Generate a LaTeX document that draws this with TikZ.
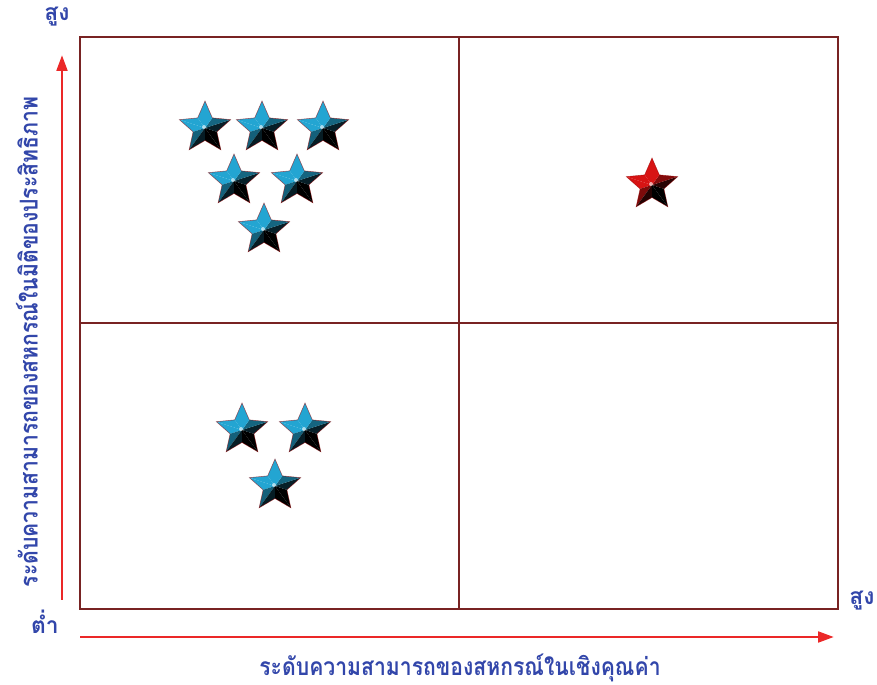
\documentclass[tikz,border=0pt]{standalone}
\usepackage{graphicx}
\usepackage{fontspec}
\newfontfamily\thaifont[Script=Thai]{Loma}
\usetikzlibrary{arrows.meta}

\definecolor{boxred}{RGB}{120,35,35}
\definecolor{axisred}{RGB}{235,40,40}
\definecolor{labelblue}{RGB}{50,70,170}
\definecolor{starblue}{RGB}{35,165,210}
\definecolor{starred}{RGB}{215,20,20}

\newcommand{\narrow}[1]{\scalebox{0.86}[1]{#1}}

\tikzset{
  pics/gem star/.style={code={
    \foreach \k [evaluate=\k as \p using {int(max(0,min(100,60+70*cos(36*\k+108-125))))},
                 evaluate=\k as \ra using {mod(\k,2)==0 ? 27 : 12.5},
                 evaluate=\k as \rb using {mod(\k,2)==0 ? 12.5 : 27}] in {0,...,9} {
      \fill[#1!\p!black] (0,0) -- ({90+36*\k}:\ra) -- ({126+36*\k}:\rb) -- cycle;
    }
    \draw[red!60!black, line width=0.3pt, opacity=0.6] (90:27)
      \foreach \j [evaluate=\j as \rr using {mod(\j,2)==0 ? 27 : 12.5}] in {1,...,9} { -- ({90+36*\j}:\rr) } -- cycle;
    \fill[white, opacity=0.6] (-1,1) circle (2);
  }},
  axis arrow/.style={axisred, line width=1.7pt, -{Triangle[length=9pt, width=6pt]}},
  axis label/.style={text=labelblue, font=\thaifont\bfseries\fontsize{13}{15}\selectfont, inner sep=0pt},
  long label/.style={axis label, font=\thaifont\bfseries\fontsize{14}{16}\selectfont}
}

\begin{document}
\begin{tikzpicture}[x=0.2mm, y=0.2mm]
  \useasboundingbox (0,0) rectangle (877,685);

  % quadrants
  \draw[boxred, line width=1.4pt] (80,76) rectangle (838,648);
  \draw[boxred, line width=1.4pt] (459,76) -- (459,648);
  \draw[boxred, line width=1.4pt] (80,362) -- (838,362);

  % axes
  \coordinate (ybase) at (62,85);
  \coordinate (ytip) at (62,630);
  \coordinate (xbase) at (80,48);
  \coordinate (xtip) at (834,48);
  \draw[axis arrow] (ybase) -- (ytip);
  \draw[axis arrow] (xbase) -- (xtip);

  \node[axis label] (yhigh) at (57,668) {สูง};
  \node[axis label] (low) at (45,63) {ต่ำ};
  \node[axis label] (xhigh) at (862,84) {สูง};
  \node[long label, rotate=90] (ylabel) at (27,343) {\narrow{ระดับความสามารถของสหกรณ์ในมิติของประสิทธิภาพ}};
  \node[long label] (xlabel) at (460,17) {\narrow{ระดับความสามารถของสหกรณ์ในเชิงคุณค่า}};

  % stars
  \foreach \sx/\sy in {205/557, 262/557, 323/557, 234/504, 297/504, 264/455, 242/255, 305/255, 275/199}
    \pic at (\sx,\sy) {gem star=starblue};
  \pic at (652,500) {gem star=starred};
\end{tikzpicture}
\end{document}
